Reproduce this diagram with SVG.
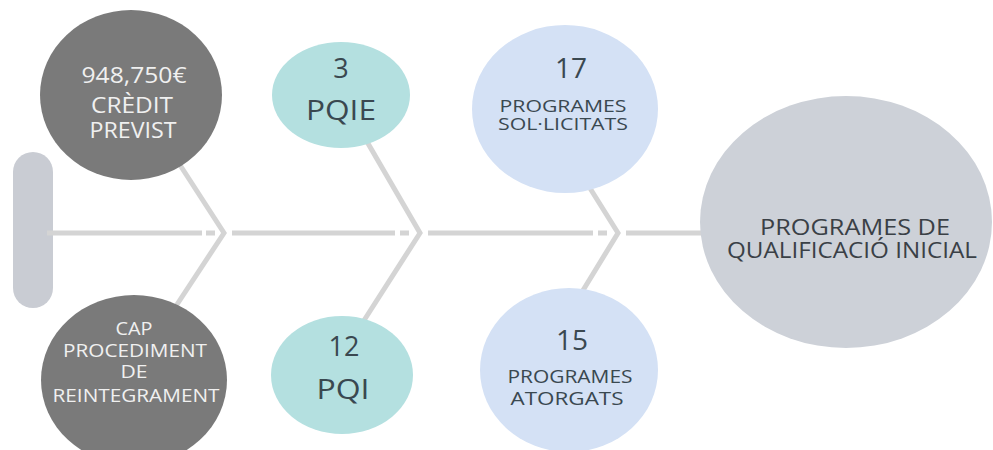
<svg xmlns="http://www.w3.org/2000/svg" width="993" height="450" viewBox="0 0 993 450">
<style>
.ln{stroke:#d4d4d4;stroke-width:5;fill:none;stroke-linecap:butt}
.dk{fill:#7a7a7a}
.tl{fill:#b4e0e0}
.bl{fill:#d4e1f5}
.gr{fill:#cdd1d8}
text{font-family:"Open Sans","Noto Sans","Liberation Sans",sans-serif}
.w{fill:#f0f0f0;text-anchor:middle}
.d{fill:#3a4850;text-anchor:middle}
</style>
<rect width="993" height="450" fill="#ffffff"/>
<g id="pill"><rect x="13" y="152" width="40" height="156" rx="20" fill="#c9ccd3"/></g>
<g id="connectors">
<path class="ln" d="M47 233H202M206 233H215M232 233H395M400 233H409M428 233H593M598 233H607M626 233H702"/>
<path class="ln" d="M180 165L224 233L176 306"/>
<path class="ln" d="M366 140L420 233L363 322"/>
<path class="ln" d="M588 185L618 233L582 292"/>
</g>
<g id="n-credit">
<ellipse class="dk" cx="131" cy="95" rx="91" ry="85"/>
<text class="w" x="134" y="83" font-size="22" textLength="105" lengthAdjust="spacingAndGlyphs">948,750€</text>
<text class="w" x="132" y="113" font-size="21" textLength="82" lengthAdjust="spacingAndGlyphs">CRÈDIT</text>
<text class="w" x="133" y="138" font-size="21" textLength="87" lengthAdjust="spacingAndGlyphs">PREVIST</text>
</g>
<g id="n-cap">
<ellipse class="dk" cx="134" cy="380" rx="93" ry="85"/>
<text class="w" x="134" y="335" font-size="19" textLength="37" lengthAdjust="spacingAndGlyphs">CAP</text>
<text class="w" x="135" y="357" font-size="19" textLength="144" lengthAdjust="spacingAndGlyphs">PROCEDIMENT</text>
<text class="w" x="134" y="378" font-size="19" textLength="27" lengthAdjust="spacingAndGlyphs">DE</text>
<text class="w" x="136" y="402" font-size="19" textLength="167" lengthAdjust="spacingAndGlyphs">REINTEGRAMENT</text>
</g>
<g id="n-pqie">
<ellipse class="tl" cx="341" cy="95" rx="69" ry="53"/>
<text class="d" x="341" y="78" font-size="27">3</text>
<text class="d" x="341" y="120" font-size="27" textLength="70" lengthAdjust="spacingAndGlyphs">PQIE</text>
</g>
<g id="n-pqi">
<ellipse class="tl" cx="342" cy="375" rx="71" ry="59"/>
<text class="d" x="344" y="356" font-size="27">12</text>
<text class="d" x="343" y="399" font-size="27" textLength="53" lengthAdjust="spacingAndGlyphs">PQI</text>
</g>
<g id="n-sol">
<ellipse class="bl" cx="565" cy="109" rx="93" ry="84"/>
<text class="d" x="571" y="78" font-size="28">17</text>
<text class="d" x="563" y="112" font-size="17" textLength="127" lengthAdjust="spacingAndGlyphs">PROGRAMES</text>
<text class="d" x="563" y="130" font-size="17" textLength="130" lengthAdjust="spacingAndGlyphs">SOL·LICITATS</text>
</g>
<g id="n-ator">
<ellipse class="bl" cx="569" cy="370" rx="89" ry="82"/>
<text class="d" x="572" y="350" font-size="28">15</text>
<text class="d" x="570" y="383" font-size="18" textLength="125" lengthAdjust="spacingAndGlyphs">PROGRAMES</text>
<text class="d" x="567" y="405" font-size="18" textLength="113" lengthAdjust="spacingAndGlyphs">ATORGATS</text>
</g>
<g id="n-main">
<ellipse class="gr" cx="846" cy="222" rx="146" ry="126"/>
<text x="855" y="235" font-size="21" fill="#3a4046" text-anchor="middle" textLength="190" lengthAdjust="spacingAndGlyphs">PROGRAMES DE</text>
<text x="852" y="258" font-size="21" fill="#3a4046" text-anchor="middle" textLength="250" lengthAdjust="spacingAndGlyphs">QUALIFICACIÓ INICIAL</text>
</g>
</svg>
